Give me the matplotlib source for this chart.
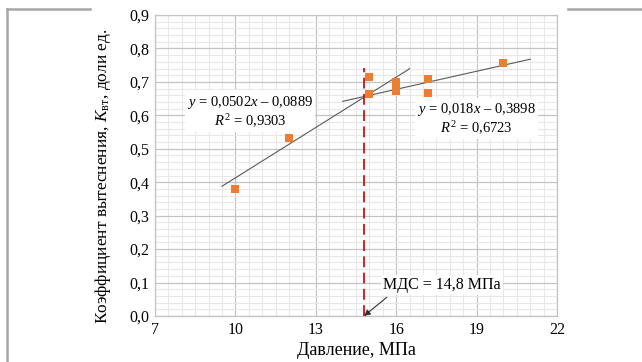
import matplotlib
matplotlib.use("Agg")
import matplotlib.pyplot as plt
from matplotlib.lines import Line2D
from matplotlib.ticker import MultipleLocator, FuncFormatter
import numpy as np

# --- data ---
pressure = [10, 12, 15, 15, 16, 16, 16, 17.2, 17.2, 20]
k_disp = [0.379, 0.533, 0.715, 0.665, 0.700, 0.686, 0.673, 0.708, 0.666, 0.757]

# trend lines (slope, intercept, x range)
fit1 = (0.0502, -0.0889, 9.5, 16.5)
fit2 = (0.018, 0.3898, 14.0, 21.0)
fit1_label = "$y$ = 0,0502$x$ – 0,0889\n$R^2$ = 0,9303"
fit2_label = "$y$ = 0,018$x$ – 0,3898\n$R^2$ = 0,6723"

mds = 14.8
mds_top = 0.742
mds_label = "МДС = 14,8 МПа"

x_ticks = [7, 10, 13, 16, 19, 22]
y_ticks = [0.0, 0.1, 0.2, 0.3, 0.4, 0.5, 0.6, 0.7, 0.8, 0.9]

plt.rcParams["font.family"] = ["Liberation Serif", "DejaVu Serif"]
plt.rcParams["mathtext.fontset"] = "custom"
plt.rcParams["mathtext.rm"] = "Liberation Serif"
plt.rcParams["mathtext.it"] = "Liberation Serif:italic"

fig = plt.figure(figsize=(6.42, 3.62), dpi=100)
ax = fig.add_axes([155 / 642, 46 / 362, 402 / 642, 301 / 362])

ax.set_xlim(7, 22)
ax.set_ylim(0, 0.9)
ax.set_xticks(x_ticks)
ax.set_yticks(y_ticks)
ax.xaxis.set_minor_locator(MultipleLocator(0.5))
ax.yaxis.set_minor_locator(MultipleLocator(0.02))
ax.grid(which="minor", color="#e8e8e8", linewidth=0.8)
ax.grid(which="major", color="#c4c4c4", linewidth=0.9)
ax.set_axisbelow(True)
ax.tick_params(which="both", length=0, labelsize=11.5, pad=4)
ax.xaxis.set_major_formatter(FuncFormatter(lambda v, p: f"{v:g}"))
ax.yaxis.set_major_formatter(FuncFormatter(lambda v, p: f"{v:.1f}".replace(".", ",")))
for s in ax.spines.values():
    s.set_color("#c4c4c4")
    s.set_linewidth(0.9)

box = dict(facecolor="white", edgecolor="none", pad=1.5)
ax.text(10.54, 0.611, fit1_label, ha="center", va="center", fontsize=10.5,
        linespacing=1.1, bbox=box, zorder=3)
ax.text(19.0, 0.590, fit2_label, ha="center", va="center", fontsize=10.5,
        linespacing=1.1, bbox=box, zorder=3)

# trend lines
for k, b, x0, x1 in (fit1, fit2):
    xs = np.array([x0, x1])
    ax.plot(xs, k * xs + b, color="#595959", linewidth=0.8, zorder=4)

ax.scatter(pressure, k_disp, marker="s", s=40, color="#ED7D31", zorder=5, linewidths=0)

# MDS line
ax.plot([mds, mds], [0, mds_top], color="#d01010", linewidth=1.3,
        linestyle=(0, (6, 3)), zorder=6)

ax.text(17.7, 0.093, mds_label, ha="center", va="center", fontsize=11.5,
        bbox=dict(facecolor="white", edgecolor="none", pad=1.5), zorder=7)
ax.annotate("", xy=(mds, 0.0), xytext=(15.65, 0.056),
            arrowprops=dict(arrowstyle="-|>", color="#333333", lw=0.8,
                            shrinkA=0, shrinkB=0, mutation_scale=9),
            zorder=7)

ax.set_xlabel("Давление, МПа", fontsize=13, labelpad=3)
ax.set_ylabel("Коэффициент вытеснения, $K_{\\mathrm{вт}}$, доли ед.", fontsize=12.5)
ax.yaxis.set_label_coords(-0.105, 0.465)

# page frame fragments
fig.add_artist(Line2D([7 / 642, 7 / 642], [0, 1 - 9 / 362], color="#a6a6a6", linewidth=1.8))
fig.add_artist(Line2D([7 / 642, 90 / 642], [1 - 9 / 362, 1 - 9 / 362], color="#a6a6a6", linewidth=1.8))
fig.add_artist(Line2D([568 / 642, 1], [1 - 9 / 362, 1 - 9 / 362], color="#a6a6a6", linewidth=1.8))

fig.savefig("out.png", dpi=100)
